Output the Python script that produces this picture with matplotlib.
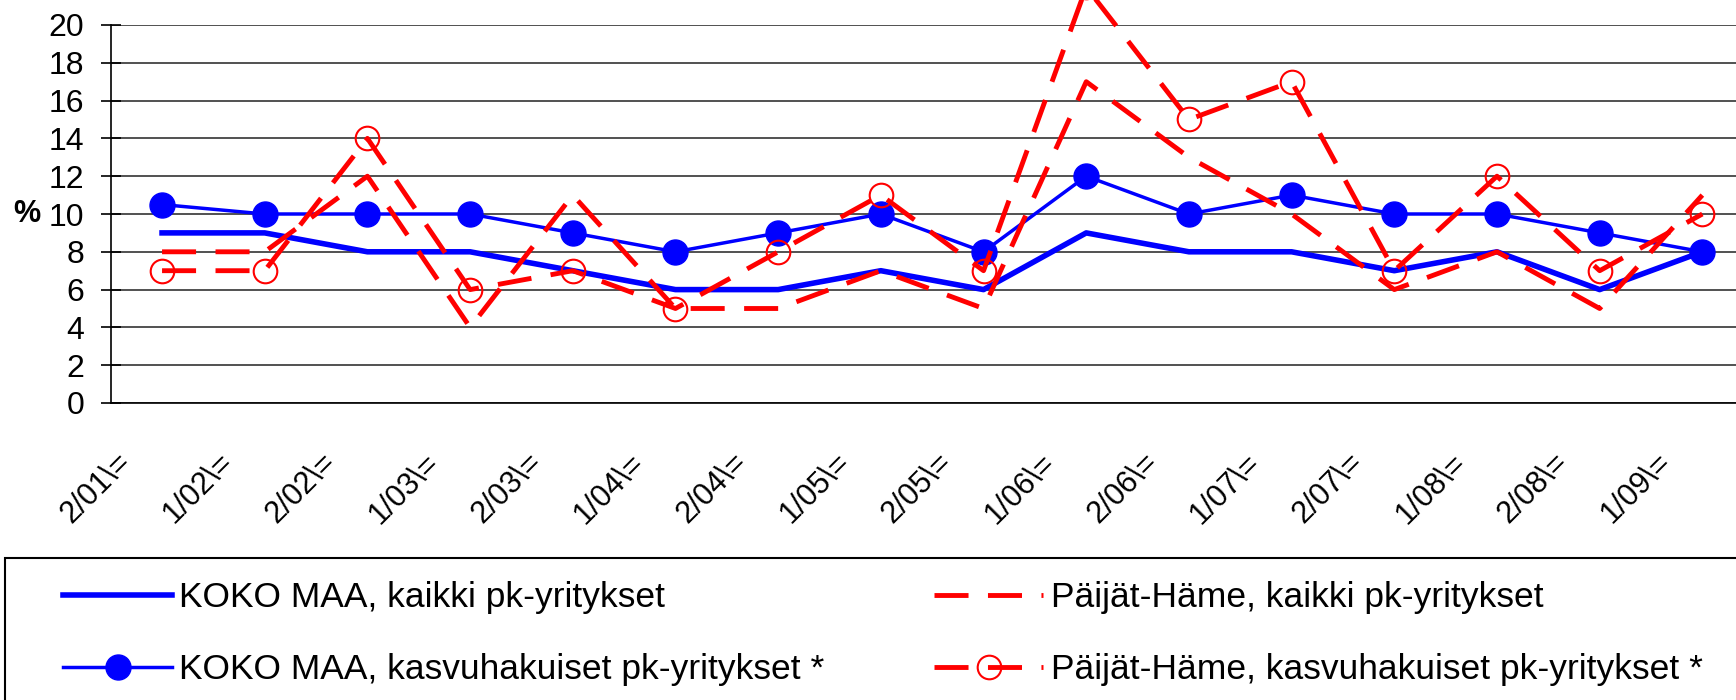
import matplotlib
matplotlib.use('Agg')
import matplotlib.pyplot as plt
import matplotlib.transforms as mtransforms
from matplotlib.patches import Rectangle

plt.rcParams['font.family'] = ['Liberation Sans', 'DejaVu Sans']

# Data
periods = ['2/01\\=', '1/02\\=', '2/02\\=', '1/03\\=', '2/03\\=', '1/04\\=', '2/04\\=', '1/05\\=',
           '2/05\\=', '1/06\\=', '2/06\\=', '1/07\\=', '2/07\\=', '1/08\\=', '2/08\\=', '1/09\\=']
koko_kaikki = [9, 9, 8, 8, 7, 6, 6, 7, 6, 9, 8, 8, 7, 8, 6, 8]
koko_kasvu = [10.5, 10, 10, 10, 9, 8, 9, 10, 8, 12, 10, 11, 10, 10, 9, 8]
ph_kaikki = [8, 8, 12, 4, 11, 5, 5, 7, 5, 17, 13, 10, 6, 8, 5, 11]
ph_kasvu = [7, 7, 14, 6, 7, 5, 8, 11, 7, 22, 15, 17, 7, 12, 7, 10]

labels = ['KOKO MAA, kaikki pk-yritykset',
          'KOKO MAA, kasvuhakuiset pk-yritykset *',
          'Päijät-Häme, kaikki pk-yritykset',
          'Päijät-Häme, kasvuhakuiset pk-yritykset *']

fig = plt.figure(figsize=(17.36, 7), dpi=100)
ax = fig.add_axes([110.7 / 1736, 1 - 403 / 700, 1643 / 1736, 378 / 700])

x = list(range(len(periods)))

ax.plot(x, koko_kaikki, color='#0000ff', lw=4, label=labels[0], zorder=3)
ax.plot(x, koko_kasvu, color='#0000ff', lw=2.5, marker='o', markersize=18,
        label=labels[1], zorder=4)
ax.plot(x, ph_kaikki, color='#ff0000', lw=3.5, dashes=(7, 4), label=labels[2],
        clip_on=False, zorder=5)
ax.plot(x, ph_kasvu, color='#ff0000', lw=3.5, dashes=(7, 4), marker='o', markersize=17,
        markerfacecolor='none', markeredgewidth=1.5, label=labels[3],
        clip_on=False, zorder=6)

ax.set_xlim(-0.5, len(periods) - 0.5)
ax.set_ylim(0, 20)
ax.set_yticks(range(0, 21, 2))
ax.yaxis.grid(True, color='#333333', lw=1.2)
ax.set_axisbelow(True)
for s in ['top', 'right']:
    ax.spines[s].set_visible(False)
ax.spines['left'].set_linewidth(1.2)
ax.spines['bottom'].set_linewidth(1.2)
ax.tick_params(axis='y', direction='inout', length=14, width=1.2, labelsize=23, pad=12)
ax.tick_params(axis='x', length=0, labelsize=22, pad=32)

ax.set_xticks(x)
ax.set_xticklabels(periods, rotation=45, ha='right', va='top')
shift = mtransforms.ScaledTranslation(-0.25, 0, fig.dpi_scale_trans)
for lab in ax.get_xticklabels():
    lab.set_transform(lab.get_transform() + shift)

ax.set_ylabel('%', rotation=0, fontsize=22, fontweight='bold', ha='center', va='center')
ax.yaxis.set_label_coords(-0.051, 0.5)

# legend box running off the bottom and right edges
fig.patches.append(Rectangle((5 / 1736, -0.1), 1.1, 0.1 + (1 - 558 / 700),
                             transform=fig.transFigure, fill=False,
                             edgecolor='black', lw=1.5))
fig.legend(loc='upper left', bbox_to_anchor=(49 / 1736, 1 - 567 / 700), ncol=2,
           frameon=False, fontsize=25.5, handlelength=3.08, handletextpad=0.2,
           columnspacing=3.1, labelspacing=1.1, borderaxespad=0)

fig.savefig('out.png', dpi=100)
